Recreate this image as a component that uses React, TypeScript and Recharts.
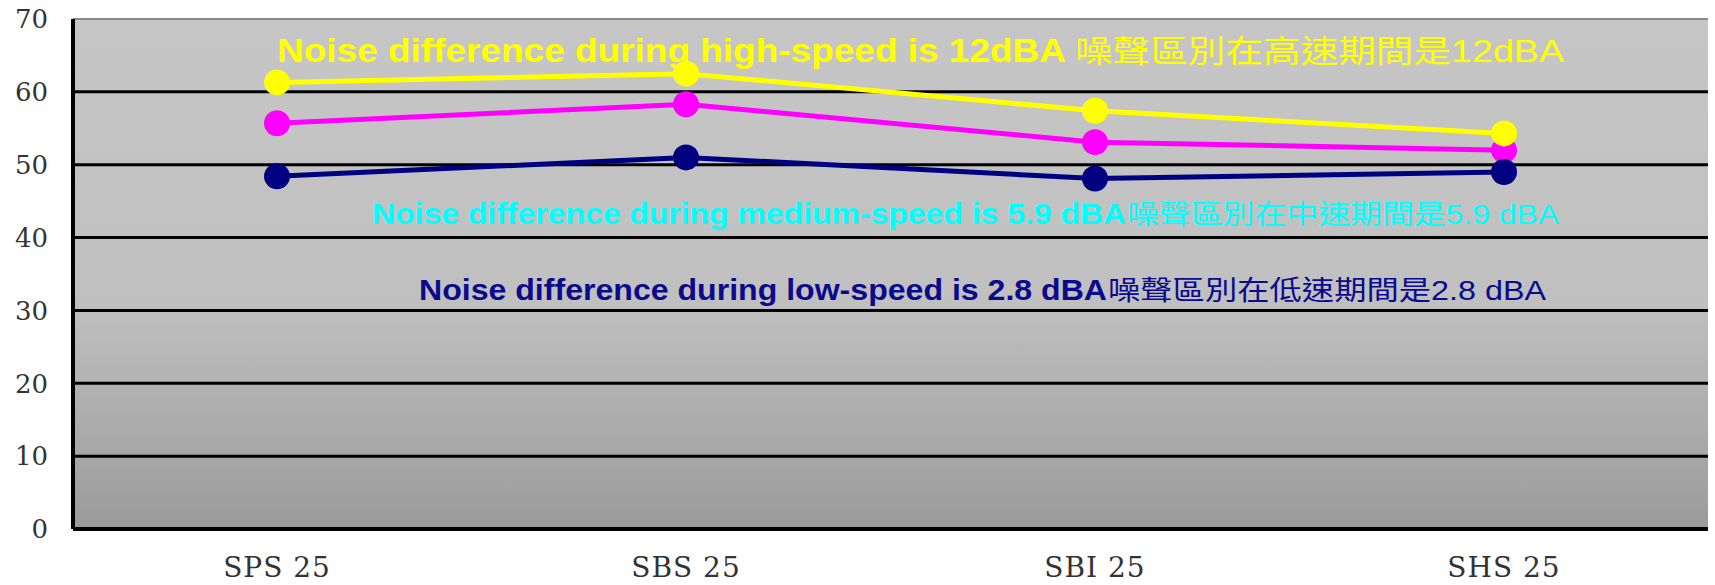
import { CartesianGrid, Customized, Line, LineChart, ReferenceLine, XAxis, YAxis } from "recharts";

const categories = ["SPS 25", "SBS 25", "SBI 25", "SHS 25"];
const highSpeed = [61.3, 62.5, 57.4, 54.3];
const mediumSpeed = [55.7, 58.3, 53.1, 52.0];
const lowSpeed = [48.4, 51.0, 48.1, 49.0];
const yTicks = [0, 10, 20, 30, 40, 50, 60, 70];

const data = categories.map((name, i) => ({
  name,
  high: highSpeed[i],
  medium: mediumSpeed[i],
  low: lowSpeed[i],
}));

const LATIN = "'Liberation Sans', Arial, sans-serif";
const CJK = "'Liberation Sans', 'Noto Sans CJK TC', sans-serif";

// annotation texts, split in a bold english part and a regular chinese part
function Notes() {
  const rows = [
    { en: "Noise difference during high-speed is 12dBA", zh: "噪聲區別在高速期間是12dBA", color: "#ffff00", x: 277, mid: 1066, zhX: 1075, end: 1564, y: 62, size: 33 },
    { en: "Noise difference during medium-speed is 5.9 dBA", zh: "噪聲區別在中速期間是5.9 dBA", color: "#00ffff", x: 372, mid: 1126, zhX: 1127, end: 1559, y: 224, size: 29 },
    { en: "Noise difference during low-speed is 2.8 dBA", zh: "噪聲區別在低速期間是2.8 dBA", color: "#0a0a8c", x: 419, mid: 1107, zhX: 1108, end: 1546, y: 300, size: 29 },
  ];
  return (
    <g>
      {rows.map((r) => (
        <g key={r.en}>
          <text x={r.x} y={r.y} fill={r.color} fontFamily={LATIN} fontWeight="bold" fontSize={r.size}
            textLength={r.mid - r.x} lengthAdjust="spacingAndGlyphs">{r.en}</text>
          <text x={r.zhX} y={r.y} fill={r.color} fontFamily={CJK} fontSize={r.size - 2}
            textLength={r.end - r.zhX} lengthAdjust="spacingAndGlyphs">{r.zh}</text>
        </g>
      ))}
    </g>
  );
}

export default function App() {
  return (
    <div style={{ position: "absolute", left: 0, top: 0, background: "#fff" }}>
      <LineChart width={1715} height={585} data={data} margin={{ top: 19, right: 7, bottom: 26, left: 0 }}>
        <defs>
          <linearGradient id="plotBg" x1="0" y1="0" x2="0" y2="1">
            <stop offset="0%" stopColor="#c6c6c6" />
            <stop offset="55%" stopColor="#c0c0c0" />
            <stop offset="100%" stopColor="#9b9b9b" />
          </linearGradient>
        </defs>
        <CartesianGrid vertical={false} horizontalValues={[10, 20, 30, 40, 50, 60]} stroke="#000" strokeWidth={3} fill="url(#plotBg)" fillOpacity={1} />
        <XAxis dataKey="name" height={30} padding={{ left: 204, right: 204 }} axisLine={{ stroke: "#000", strokeWidth: 4 }} tickLine={false} tickSize={26} tickMargin={2}
          tick={{ fill: "#333", fontFamily: "'DejaVu Serif', serif", fontSize: 28, letterSpacing: 1 }} />
        <YAxis width={73} domain={[0, 70]} ticks={yTicks} interval={0} axisLine={{ stroke: "#000", strokeWidth: 4 }}
          tickLine={false} tickSize={23} tickMargin={2}
          tick={{ fill: "#333", fontFamily: "'DejaVu Serif', serif", fontSize: 26 }} />
        <ReferenceLine y={70} stroke="#888" strokeWidth={2} />
        <Line dataKey="medium" stroke="#ff00ff" strokeWidth={5} dot={{ r: 13, fill: "#ff00ff", stroke: "none" }} isAnimationActive={false} />
        <Line dataKey="low" stroke="#000080" strokeWidth={5} dot={{ r: 13, fill: "#000080", stroke: "none" }} isAnimationActive={false} />
        <Line dataKey="high" stroke="#ffff00" strokeWidth={5} dot={{ r: 13, fill: "#ffff00", stroke: "none" }} isAnimationActive={false} />
        <Customized component={Notes} />
      </LineChart>
    </div>
  );
}
